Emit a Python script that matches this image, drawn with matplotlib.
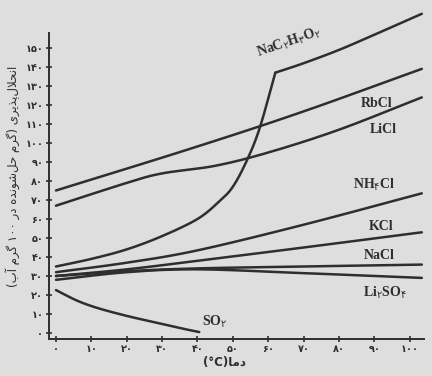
import numpy as np
import matplotlib
matplotlib.use("Agg")
import matplotlib.pyplot as plt

# data (temperature C, grams per 100 g water)
nac2h3o2_t = [0, 10, 20, 30, 40, 46, 50, 54, 57.6, 62]
nac2h3o2_s = [35, 39, 44, 51, 60, 69, 77, 91, 108, 137]
nac2h3o2_top_t = [62, 70, 80, 90, 103.4]
nac2h3o2_top_s = [137, 142, 149, 157, 168]
rbcl_t = [0, 38, 69, 103.4]
rbcl_s = [75, 97, 116, 139]
licl_t = [0, 20, 30, 45, 60, 80, 103.4]
licl_s = [67, 79, 84, 88, 95, 107, 124]
nh4cl_t = [0, 20, 40, 70, 103.4]
nh4cl_s = [32, 37, 43.5, 57, 73.5]
kcl_t = [0, 20, 40, 70, 103.4]
kcl_s = [30, 33.5, 38, 45, 53]
nacl_t = [0, 20, 40, 70, 103.4]
nacl_s = [30, 32.5, 34, 35, 36]
li2so4_t = [0, 20, 40, 70, 103.4]
li2so4_s = [28, 32, 33.5, 31.5, 29]
so2_t = [0, 6, 12, 20, 27, 34, 40.5]
so2_s = [22.6, 17, 13, 9, 6, 3, 0.5]

fa = "۰۱۲۳۴۵۶۷۸۹"
def fa_num(n):
    return "".join(fa[int(c)] for c in str(n))

xticks = list(range(0, 101, 10))
yticks = list(range(0, 151, 10))

# --- tiny persian shaper (matplotlib has no bidi / joining) ---
forms = {
    "ا": ("\uFE8D", "\uFE8E", None, None), "آ": ("\uFE81", "\uFE82", None, None),
    "ب": ("\uFE8F", "\uFE90", "\uFE91", "\uFE92"), "پ": ("\uFB56", "\uFB57", "\uFB58", "\uFB59"),
    "ح": ("\uFEA1", "\uFEA2", "\uFEA3", "\uFEA4"), "د": ("\uFEA9", "\uFEAA", None, None),
    "ذ": ("\uFEAB", "\uFEAC", None, None), "ر": ("\uFEAD", "\uFEAE", None, None),
    "ش": ("\uFEB5", "\uFEB6", "\uFEB7", "\uFEB8"), "گ": ("\uFB92", "\uFB93", "\uFB94", "\uFB95"),
    "ل": ("\uFEDD", "\uFEDE", "\uFEDF", "\uFEE0"), "م": ("\uFEE1", "\uFEE2", "\uFEE3", "\uFEE4"),
    "ن": ("\uFEE5", "\uFEE6", "\uFEE7", "\uFEE8"), "و": ("\uFEED", "\uFEEE", None, None),
    "ه": ("\uFEE9", "\uFEEA", "\uFEEB", "\uFEEC"), "ی": ("\uFBFC", "\uFBFD", "\uFBFE", "\uFBFF"),
}

def shape(s):
    out = []
    i = 0
    while i < len(s):
        c = s[i]
        if c not in forms:
            if c != "\u200c":
                out.append(c)
            i += 1
            continue
        prev = s[i - 1] if i > 0 else ""
        jp = prev in forms and forms[prev][2] is not None
        if c == "ل" and i + 1 < len(s) and s[i + 1] == "ا":
            out.append("\uFEFC" if jp else "\uFEFB")
            i += 2
            continue
        nxt = s[i + 1] if i + 1 < len(s) else ""
        jn = forms[c][2] is not None and nxt in forms
        f = forms[c]
        out.append(f[3] if jp and jn else f[1] if jp else f[2] if jn else f[0])
        i += 1
    # visual order: reverse, keep digit runs LTR, mirror brackets
    vis = "".join(reversed(out))
    vis = vis.translate(str.maketrans("()", ")("))
    res, run = "", ""
    for ch in vis:
        if ch in fa:
            run += ch
        else:
            res += run[::-1] + ch
            run = ""
    return res + run[::-1]

def smooth(t, s, n=30):
    # catmull-rom through the read points
    p = np.column_stack([t, s]).astype(float)
    p = np.vstack([2 * p[0] - p[1], p, 2 * p[-1] - p[-2]])
    u = np.linspace(0, 1, n)[:, None]
    seg = []
    for k in range(1, len(p) - 2):
        p0, p1, p2, p3 = p[k - 1], p[k], p[k + 1], p[k + 2]
        seg.append(0.5 * (2 * p1 + (-p0 + p2) * u + (2 * p0 - 5 * p1 + 4 * p2 - p3) * u ** 2
                          + (-p0 + 3 * p1 - 3 * p2 + p3) * u ** 3))
    c = np.vstack(seg)
    return c[:, 0], c[:, 1]

ylab = shape("انحلال\u200cپذیری (گرم حل\u200cشونده در ۱۰۰ گرم آب)")
xlab = "(°C)" + shape("دما")

bg = "#dedede"
ink = "#2e2e2e"
fig = plt.figure(figsize=(4.32, 3.76), dpi=100, facecolor=bg)
ax = fig.add_axes([0.1132, 0.0992, 0.8845, 0.8995], facecolor=bg)

for t, s in [(nac2h3o2_t, nac2h3o2_s), (nac2h3o2_top_t, nac2h3o2_top_s),
             (rbcl_t, rbcl_s), (licl_t, licl_s),
             (nh4cl_t, nh4cl_s), (kcl_t, kcl_s), (nacl_t, nacl_s),
             (li2so4_t, li2so4_s), (so2_t, so2_s)]:
    xx, yy = smooth(t, s)
    ax.plot(xx, yy, color=ink, lw=1.8, solid_capstyle="round", solid_joinstyle="round")

ax.set_xlim(-2, 106)
ax.set_ylim(-3, 175)
for sp in ["top", "right"]:
    ax.spines[sp].set_visible(False)
ax.spines["left"].set_bounds(-2, 158)
ax.spines["bottom"].set_bounds(-2, 104)
for sp in ["left", "bottom"]:
    ax.spines[sp].set_color(ink)
    ax.spines[sp].set_linewidth(1.4)

ax.set_xticks(xticks)
ax.set_xticklabels([fa_num(v) for v in xticks])
ax.set_yticks(yticks)
ax.set_yticklabels([fa_num(v) for v in yticks])
ax.tick_params(direction="inout", length=5, width=1.2, color=ink,
               labelsize=7, labelcolor=ink, pad=1.5)
for lb in ax.get_xticklabels() + ax.get_yticklabels():
    lb.set_fontweight("bold")

fig.text(0.03, 0.53, ylab, rotation=90, ha="center", va="center",
         fontsize=8.5, color=ink, family="DejaVu Sans")
fig.text(0.52, 0.035, xlab, ha="center", va="center", fontsize=8.5,
         color=ink, family="DejaVu Sans", fontweight="bold")

fam = ["Liberation Serif", "DejaVu Sans"]
kw = dict(fontsize=10, fontweight="bold", color=ink, family=fam, ha="center", va="center")
ax.text(66, 153, "NaC$_{۲}$H$_{۳}$O$_{۲}$", rotation=19, **kw)
ax.text(90.7, 121, "RbCl", **kw)
ax.text(92.4, 107, "LiCl", **kw)
ax.text(90, 78, "NH$_{۴}$Cl", **kw)
ax.text(92, 56, "KCl", **kw)
ax.text(91.5, 41, "NaCl", **kw)
ax.text(93, 21, "Li$_{۲}$SO$_{۴}$", **kw)
ax.text(45, 6, "SO$_{۲}$", **kw)

fig.savefig("out.png", dpi=100, facecolor=bg)
